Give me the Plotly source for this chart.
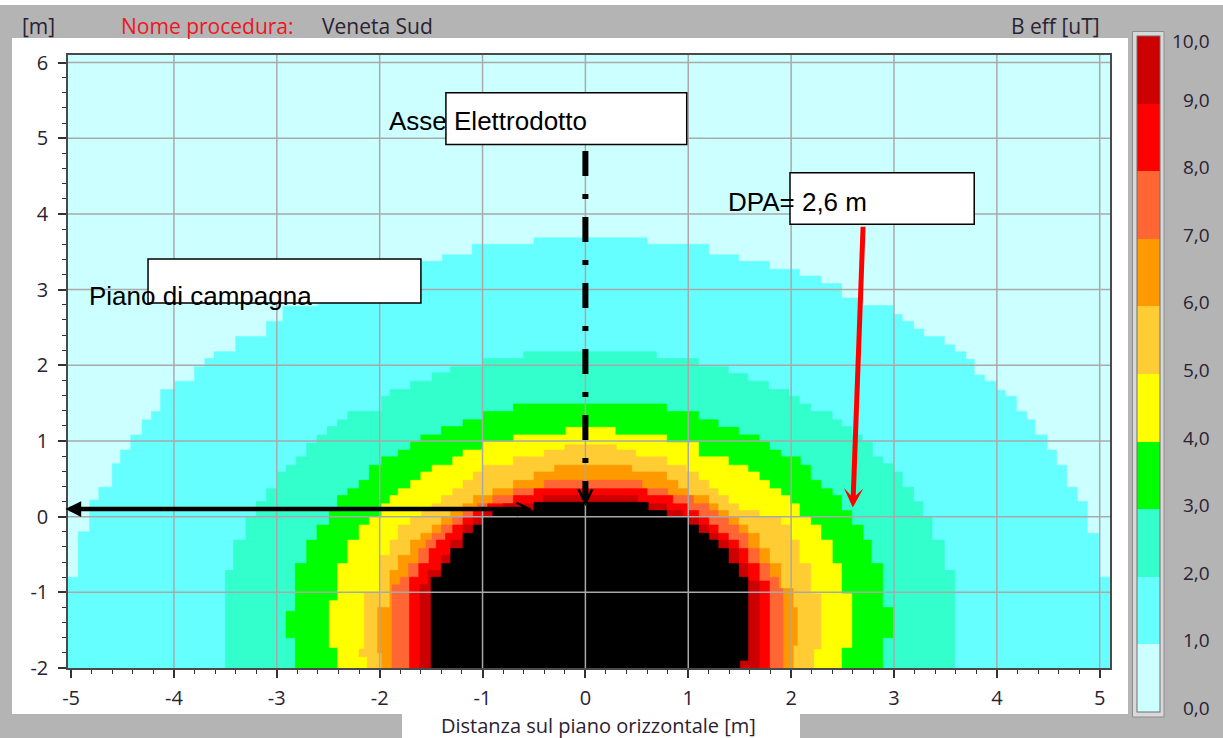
import plotly.graph_objects as go

# ---------------- data ----------------
LEVEL_VALUES = [0, 1, 2, 3, 4, 5, 6, 7, 8, 9, 10]          # uT
BAND_COLORS = ["#ccffff", "#66ffff", "#33ffcc", "#00ff00", "#ffff00",
               "#ffcc33", "#ff9900", "#ff6633", "#ff0000", "#cc0000"]
OVER_COLOR = "#000000"                                       # B > 10 uT
CBAR_TEXT = ["0,0", "1,0", "2,0", "3,0", "4,0", "5,0", "6,0", "7,0", "8,0", "9,0", "10,0"]
X_TICKS = [-5, -4, -3, -2, -1, 0, 1, 2, 3, 4, 5]
Y_TICKS = [-2, -1, 0, 1, 2, 3, 4, 5, 6]
X_RANGE = [-5.03, 5.1]
Y_RANGE = [-2.0, 6.1]
DPA_M = 2.6

# iso-lines (B = 1 ... 10 uT): top corners of the map's 0.1 m cell rows,
# left flank bottom->top, then right flank top->bottom  (x [m], y [m])
ISO1_X = [-5.2, -5.2, -5.03, -4.93, -4.82, -4.73, -4.60, -4.52, -4.42, -4.31, -4.22, -4.13, -3.99, -3.80, -3.70,
          -3.61, -3.40, -3.10, -2.94, -2.60, -2.20, -1.90, -1.59, -1.39, -1.10, -0.50, 0.60, 1.20, 1.49, 1.79,
          2.08, 2.29, 2.49, 2.70, 2.99, 3.08, 3.19, 3.29, 3.49, 3.59, 3.70, 3.78, 3.88, 4.00, 4.08,
          4.19, 4.29, 4.37, 4.49, 4.58, 4.68, 4.78, 4.88, 4.99, 5.08, 5.2, 5.2]
ISO1_Y = [-2.1, -0.80, -0.80, -0.20, 0.22, 0.39, 0.70, 0.88, 1.08, 1.28, 1.39, 1.68, 1.79, 1.98, 2.09,
          2.18, 2.38, 2.58, 2.78, 2.95, 3.12, 3.25, 3.375, 3.46, 3.60, 3.685, 3.685, 3.60, 3.46, 3.375,
          3.27, 3.18, 3.08, 2.89, 2.79, 2.67, 2.58, 2.48, 2.38, 2.27, 2.18, 2.08, 1.87, 1.79, 1.67,
          1.59, 1.39, 1.28, 1.08, 0.88, 0.68, 0.39, 0.20, -0.22, -0.80, -0.80, -2.1]

ISO2_X = [-3.50, -3.50, -3.42, -3.30, -3.20, -3.10, -2.99, -2.91, -2.81, -2.71, -2.61, -2.51, -2.41, -2.31, -1.98,
          -1.90, -1.70, -1.49, -1.31, -1.00, -0.60, 0.69, 1.10, 1.39, 1.58, 1.78, 1.98, 2.08, 2.19, 2.40,
          2.49, 2.59, 2.69, 2.79, 2.89, 2.99, 3.08, 3.19, 3.28, 3.37, 3.49, 3.59, 3.59]
ISO2_Y = [-2.1, -0.71, -0.31, 0.0, 0.20, 0.37, 0.59, 0.68, 0.79, 0.97, 1.08, 1.19, 1.28, 1.39, 1.59,
          1.68, 1.79, 1.90, 1.98, 2.09, 2.18, 2.18, 2.09, 1.98, 1.89, 1.79, 1.68, 1.59, 1.49, 1.39,
          1.28, 1.19, 1.08, 0.99, 0.79, 0.70, 0.59, 0.39, 0.20, 0.0, -0.31, -0.71, -2.1]

ISO3_X = [-2.82, -2.82, -2.91, -2.91, -2.82, -2.71, -2.61, -2.49, -2.41, -2.31, -2.20, -2.10, -1.98, -1.82, -1.70,
          -1.60, -1.40, -1.19, -1.00, -0.70, 0.79, 1.10, 1.29, 1.49, 1.69, 1.79, 1.90, 2.09, 2.19, 2.29,
          2.40, 2.49, 2.59, 2.70, 2.78, 2.89, 2.99, 2.99, 2.89, 2.89]
ISO3_Y = [-2.1, -1.60, -1.55, -1.25, -0.62, -0.31, -0.11, 0.08, 0.28, 0.37, 0.48, 0.68, 0.79, 0.88, 0.99,
          1.08, 1.19, 1.28, 1.39, 1.49, 1.49, 1.39, 1.28, 1.18, 1.08, 0.99, 0.88, 0.79, 0.68, 0.48,
          0.37, 0.28, 0.08, -0.11, -0.31, -0.62, -1.20, -1.55, -1.60, -2.1]

ISO4_X = [-2.41, -2.41, -2.49, -2.49, -2.41, -2.31, -2.20, -2.10, -1.98, -1.90, -1.82, -1.70, -1.60, -1.49, -1.29,
          -1.19, -1.00, -0.70, -0.19, 0.29, 0.79, 1.10, 1.39, 1.58, 1.69, 1.79, 1.90, 1.99, 2.08, 2.19,
          2.29, 2.40, 2.49, 2.59, 2.59, 2.49, 2.49]
ISO4_Y = [-2.1, -1.73, -1.60, -1.11, -0.62, -0.31, -0.11, 0.0, 0.17, 0.28, 0.37, 0.48, 0.59, 0.68, 0.79,
          0.88, 0.99, 1.08, 1.18, 1.18, 1.08, 0.98, 0.79, 0.68, 0.59, 0.48, 0.37, 0.28, 0.17, 0.0,
          -0.11, -0.31, -0.62, -1.02, -1.60, -1.73, -2.1]

ISO5_X = [-2.12, -2.12, -2.20, -2.15, -2.00, -1.90, -1.82, -1.70, -1.59, -1.49, -1.40, -1.29, -1.19, -1.09, -1.00,
          -0.70, -0.40, -0.20, 0.30, 0.49, 0.79, 0.98, 1.10, 1.20, 1.29, 1.39, 1.49, 1.69, 1.90, 1.99,
          2.08, 2.19, 2.29, 2.29, 2.22, 2.22]
ISO5_Y = [-2.1, -1.85, -1.75, -1.00, -0.51, -0.31, -0.11, 0.0, 0.08, 0.17, 0.28, 0.37, 0.48, 0.59, 0.68,
          0.79, 0.88, 0.95, 0.95, 0.88, 0.79, 0.68, 0.59, 0.48, 0.37, 0.28, 0.17, 0.08, 0.0, -0.11,
          -0.31, -0.62, -1.02, -1.70, -1.75, -2.1]

ISO6_X = [-1.98, -1.98, -2.02, -2.02, -1.90, -1.82, -1.70, -1.60, -1.49, -1.40, -1.31, -1.19, -1.09, -0.90, -0.70,
          -0.50, -0.30, 0.45, 0.79, 0.90, 1.00, 1.20, 1.29, 1.39, 1.49, 1.58, 1.69, 1.79, 1.90, 2.02,
          2.06, 2.06, 2.02, 2.02]
ISO6_Y = [-2.1, -1.80, -1.70, -1.20, -0.71, -0.51, -0.31, -0.22, -0.11, 0.0, 0.08, 0.17, 0.28, 0.37, 0.48,
          0.59, 0.68, 0.68, 0.59, 0.48, 0.37, 0.28, 0.17, 0.08, 0.0, -0.11, -0.22, -0.42, -0.62, -0.95,
          -1.20, -1.60, -1.70, -2.1]

ISO7_X = [-1.88, -1.88, -1.80, -1.72, -1.62, -1.55, -1.49, -1.40, -1.29, -1.19, -1.05, -0.90, -0.70, -0.40, 0.55,
          0.80, 1.05, 1.20, 1.29, 1.39, 1.49, 1.58, 1.69, 1.79, 1.88, 1.92, 1.92]
ISO7_Y = [-2.1, -0.90, -0.80, -0.62, -0.42, -0.31, -0.22, -0.11, 0.0, 0.08, 0.17, 0.28, 0.37, 0.48, 0.48,
          0.37, 0.28, 0.17, 0.08, 0.0, -0.11, -0.22, -0.42, -0.62, -0.80, -0.95, -2.1]

ISO8_X = [-1.71, -1.71, -1.62, -1.52, -1.45, -1.36, -1.29, -1.19, -1.09, -0.95, -0.70, -0.50, 0.60, 0.85, 1.00,
          1.10, 1.20, 1.29, 1.39, 1.49, 1.58, 1.69, 1.79, 1.79]
ISO8_Y = [-2.1, -0.80, -0.62, -0.42, -0.31, -0.22, -0.11, 0.0, 0.08, 0.17, 0.28, 0.37, 0.37, 0.28, 0.17,
          0.08, 0.0, -0.11, -0.22, -0.31, -0.42, -0.62, -0.85, -2.1]

ISO9_X = [-1.61, -1.61, -1.53, -1.40, -1.31, -1.19, -1.09, -1.00, -0.80, -0.41, 0.51, 0.79, 0.95, 1.10, 1.20,
          1.29, 1.39, 1.49, 1.58, 1.69, 1.69]
ISO9_Y = [-2.1, -0.90, -0.71, -0.51, -0.31, -0.11, 0.0, 0.08, 0.17, 0.28, 0.28, 0.17, 0.08, 0.0, -0.11,
          -0.22, -0.31, -0.42, -0.62, -0.85, -2.1]

ISO10_X = [-1.50, -1.50, -1.40, -1.31, -1.19, -1.09, -1.00, -0.90, -0.50, 0.61, 0.79, 1.00, 1.10, 1.20, 1.29,
           1.39, 1.49, 1.58, 1.58, 1.50, 1.50]
ISO10_Y = [-2.1, -0.80, -0.62, -0.42, -0.22, -0.11, 0.0, 0.08, 0.19, 0.19, 0.08, 0.0, -0.11, -0.22, -0.31,
           -0.42, -0.62, -0.80, -1.90, -1.90, -2.1]


def stair_outline(xs, ys):
    """Turn the row-corner readings into the cell staircase of the original map."""
    top = ys.index(max(ys))
    ox, oy = [xs[0]], [ys[0]]
    for i in range(1, len(xs)):
        if i <= top:          # left flank going up: horizontal then vertical
            ox.append(xs[i]); oy.append(ys[i - 1])
        else:                 # right flank going down: vertical then horizontal
            ox.append(xs[i - 1]); oy.append(ys[i])
        ox.append(xs[i]); oy.append(ys[i])
    return ox, oy


# ---------------- figure ----------------
W, H = 1223, 738
PL, PR, PT, PB = 68, 1110, 55, 668          # plot area in pixels


def fx(px):
    return (px - PL) / (PR - PL)


def fy(py):
    return (PB - py) / (PB - PT)


FONT_UI = "Open Sans, Noto Sans, DejaVu Sans, sans-serif"
FONT_AR = "Liberation Sans, Arial, sans-serif"
TXT = "#2a2233"
GRAY = "#b4b4b4"

fig = go.Figure()

iso_x = [ISO1_X, ISO2_X, ISO3_X, ISO4_X, ISO5_X, ISO6_X, ISO7_X, ISO8_X, ISO9_X, ISO10_X]
iso_y = [ISO1_Y, ISO2_Y, ISO3_Y, ISO4_Y, ISO5_Y, ISO6_Y, ISO7_Y, ISO8_Y, ISO9_Y, ISO10_Y]
fill_cols = BAND_COLORS[1:] + [OVER_COLOR]
for xs, ys, col in zip(iso_x, iso_y, fill_cols):
    sx, sy = stair_outline(xs, ys)
    fig.add_trace(go.Scatter(x=sx, y=sy, mode="lines", fill="toself", fillcolor=col,
                             line=dict(width=0.6, color=col), hoverinfo="skip", showlegend=False))

# discrete colour scale for the legend bar
n = len(BAND_COLORS)
cscale = []
for i, c in enumerate(BAND_COLORS):
    cscale.append([i / n, c])
    cscale.append([(i + 1) / n, c])

CB_TOP, CB_BOT = 36, 712
fig.add_trace(go.Scatter(
    x=[X_RANGE[0] - 10], y=[Y_RANGE[0] - 10], mode="markers",
    marker=dict(size=2, color=[LEVEL_VALUES[0]], cmin=LEVEL_VALUES[0], cmax=LEVEL_VALUES[-1],
                colorscale=cscale, showscale=True,
                colorbar=dict(thickness=23, thicknessmode="pixels", len=CB_BOT - CB_TOP, lenmode="pixels",
                              x=fx(1136.7), xanchor="left", y=fy(CB_TOP), yanchor="top",
                              xpad=0, ypad=0, outlinewidth=1, outlinecolor="#6e6e6e",
                              showticklabels=False, ticks="", borderwidth=0)),
    hoverinfo="skip", showlegend=False))

shapes = []


def prect(x0, y0, x1, y1, fill, line_color=None, lw=0, layer="below"):
    return dict(type="rect", xref="paper", yref="paper", x0=fx(x0), x1=fx(x1), y0=fy(y1), y1=fy(y0),
                fillcolor=fill, line=dict(color=line_color or fill, width=lw), layer=layer)


# window chrome
shapes += [
    prect(0, 5, W, 38, GRAY),
    prect(0, 5, 12, H + 10, GRAY),
    prect(1128, 5, W, H + 10, GRAY),
    prect(0, 714, 402, H + 10, GRAY),
    prect(800, 714, W, H + 10, GRAY),
    prect(1132.5, 31.5, 1164, 717, "#d9d9d9", "#8c8c8c", 1),
]

# grid lines (drawn over the coloured field, as in the original)
for v in X_TICKS[1:]:
    shapes.append(dict(type="line", xref="x", yref="paper", x0=v, x1=v, y0=0, y1=1,
                       line=dict(color="#a9a9a9", width=1.5), layer="above"))
for v in Y_TICKS[1:]:
    shapes.append(dict(type="line", xref="paper", yref="y", x0=0, x1=1, y0=v, y1=v,
                       line=dict(color="#a9a9a9", width=1.5), layer="above"))

# axis of the line (dash-dot)
shapes.append(dict(type="line", xref="x", yref="y", x0=0, x1=0, y0=4.83, y1=0.22,
                   line=dict(color="black", width=6, dash="25px,18px,5px,18px"), layer="above"))

# white label boxes
for (x0, x1, y0, y1) in [(-1.356, 0.985, 4.919, 5.601), (1.989, 3.78, 3.862, 4.544), (-4.252, -1.599, 2.822, 3.404)]:
    shapes.append(dict(type="rect", xref="x", yref="y", x0=x0, x1=x1, y0=y0, y1=y1,
                       fillcolor="white", line=dict(color="black", width=1.5), layer="above"))

ann = []
# labels in the map
ann.append(dict(x=-1.932, y=5.23, xref="x", yref="y", text="Asse Elettrodotto", showarrow=False,
                xanchor="left", yanchor="middle", font=dict(family=FONT_AR, size=26, color="black")))
ann.append(dict(x=1.367, y=4.16, xref="x", yref="y", text=("DPA= %.1f m" % DPA_M).replace(".", ","),
                showarrow=False, xanchor="left", yanchor="middle",
                font=dict(family=FONT_AR, size=26, color="black")))
ann.append(dict(x=-4.845, y=2.92, xref="x", yref="y", text="Piano di campagna", showarrow=False,
                xanchor="left", yanchor="middle", font=dict(family=FONT_AR, size=26, color="black")))

# arrow head at the bottom of the line axis
ann.append(dict(x=0, y=0.14, xref="x", yref="y", ax=0, ay=-18, text="", showarrow=True,
                arrowhead=5, arrowsize=1.8, arrowwidth=1.5, arrowcolor="black", standoff=0))
# horizontal double arrow (ground level)
ann.append(dict(x=-0.52, y=0.10, xref="x", yref="y", ax=-468, ay=0, text="", showarrow=True,
                arrowside="end+start", arrowhead=5, arrowsize=0.55, startarrowhead=2, startarrowsize=0.7,
                arrowwidth=4.5, arrowcolor="black", standoff=0, startstandoff=0))
# DPA red arrow
ann.append(dict(x=DPA_M, y=0.12, xref="x", yref="y", ax=2.70, ay=3.85, axref="x", ayref="y", text="",
                showarrow=True, arrowhead=3, arrowsize=0.65, arrowwidth=5, arrowcolor="#ff0000", standoff=0))

# header
hy = fy(26)
ann.append(dict(x=fx(20), y=hy, xref="paper", yref="paper", text="[m]", showarrow=False, xanchor="left",
                yanchor="middle", font=dict(family=FONT_UI, size=21, color=TXT)))
ann.append(dict(x=fx(119), y=hy, xref="paper", yref="paper", text="Nome procedura:", showarrow=False,
                xanchor="left", yanchor="middle", font=dict(family=FONT_UI, size=21, color="#f0141e")))
ann.append(dict(x=fx(320), y=hy, xref="paper", yref="paper", text="Veneta Sud", showarrow=False,
                xanchor="left", yanchor="middle", font=dict(family=FONT_UI, size=21, color=TXT)))
ann.append(dict(x=fx(1102), y=hy, xref="paper", yref="paper", text="B eff [uT]", showarrow=False,
                xanchor="right", yanchor="middle", font=dict(family=FONT_UI, size=21, color=TXT)))

# colour bar labels
seg = (CB_BOT - CB_TOP) / (len(LEVEL_VALUES) - 1)
for v, t in zip(LEVEL_VALUES, CBAR_TEXT):
    ypx = max(CB_BOT - v * seg - 4, 41)
    ann.append(dict(x=fx(1212), y=fy(ypx), xref="paper", yref="paper", text=t, showarrow=False,
                    xanchor="right", yanchor="middle", font=dict(family=FONT_UI, size=19, color=TXT)))

# x axis title
ann.append(dict(x=fx(598), y=fy(725), xref="paper", yref="paper", text="Distanza sul piano orizzontale [m]",
                showarrow=False, xanchor="center", yanchor="middle",
                font=dict(family=FONT_UI, size=20, color=TXT)))

axis_common = dict(ticks="outside", ticklen=8, tickwidth=1.5, tickcolor="#333",
                   showgrid=False, zeroline=False, showline=True, linecolor="#4a4a4a", linewidth=1.5,
                   mirror=True, fixedrange=True, tickfont=dict(family=FONT_UI, size=20, color=TXT),
                   minor=dict(tickmode="linear", tick0=0, dtick=0.2, ticks="outside", ticklen=4,
                              tickwidth=1, tickcolor="#333", showgrid=False))

fig.update_layout(
    width=W, height=H,
    margin=dict(l=PL, r=W - PR, t=PT, b=H - PB, pad=0),
    paper_bgcolor="white", plot_bgcolor=BAND_COLORS[0],
    xaxis=dict(range=X_RANGE, tickmode="array", tickvals=X_TICKS, ticktext=[str(v) for v in X_TICKS],
               ticklabelstandoff=3, **axis_common),
    yaxis=dict(range=Y_RANGE, tickmode="array", tickvals=Y_TICKS, ticktext=[str(v) for v in Y_TICKS],
               ticklabelstandoff=6, **axis_common),
    shapes=shapes, annotations=ann, showlegend=False,
)

fig.write_html("out.html", config={"displayModeBar": False},
               post_script="document.body.style.margin='0px';document.body.style.overflow='hidden';")
